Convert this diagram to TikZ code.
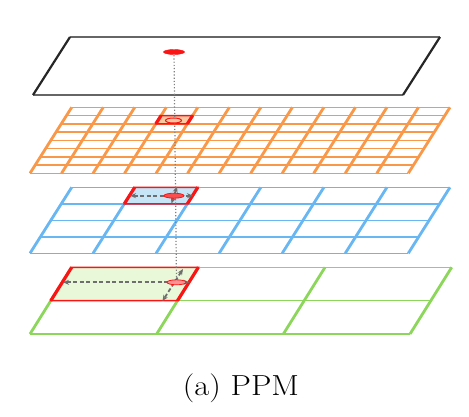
\documentclass[tikz,border=0pt]{standalone}
\usetikzlibrary{arrows.meta,shapes.geometric}
\definecolor{lorange}{RGB}{248,152,72}
\definecolor{lblue}{RGB}{104,182,242}
\definecolor{lgreen}{RGB}{140,214,92}
\definecolor{fblue}{RGB}{198,230,248}
\definecolor{fgreen}{RGB}{232,248,216}
\definecolor{forange}{RGB}{250,200,160}
\definecolor{pred}{RGB}{250,20,20}
\definecolor{arrgray}{RGB}{110,110,110}
\tikzset{
  hline/.style={line width=1.5pt},
  sline/.style={line width=2.8pt},
  redcell/.style={draw=pred, line width=1.5pt},
  redside/.style={draw=pred, line width=3.2pt},
  dblarrow/.style={arrgray, line width=1.8pt, dash pattern=on 4pt off 2.5pt, {Stealth[length=6pt,width=5pt]}-{Stealth[length=6pt,width=5pt]}},
  blob/.style={ellipse, draw=pred, inner sep=0pt},
}
\begin{document}
\begin{tikzpicture}[x=1pt,y=1pt]
\useasboundingbox (0,0) rectangle (469,416);
% ---- top (black) layer
\begin{scope}[shift={(33,321)}, xslant=0.638]
  \draw[line width=1.5pt, black!60] (0,0) -- (370,0) (0,58) -- (370,58);
  \draw[line width=2.2pt, black!85] (0,0) -- (0,58) (370,0) -- (370,58);
\end{scope}
% ---- orange layer 12 x 8
\begin{scope}[shift={(30,242.7)}, xslant=0.632, lorange]
  \foreach \j in {0,...,8} \draw[hline] (0,\j*8.25) -- (378.3,\j*8.25);
  \foreach \i in {0,...,12} \draw[sline] (\i*31.525,0) -- (\i*31.525,66);
  \fill[forange] (94.575,49.5) rectangle (126.1,57.75);
  \draw[redcell] (94.575,49.5) rectangle (126.1,57.75);
  \draw[redside] (94.575,49.5) -- (94.575,57.75) (126.1,49.5) -- (126.1,57.75);
\end{scope}
% ---- blue layer 6 x 4
\begin{scope}[shift={(30,162.7)}, xslant=0.632, lblue]
  \foreach \j in {0,...,4} \draw[hline] (0,\j*16.5) -- (378.3,\j*16.5);
  \foreach \i in {0,...,6} \draw[sline] (\i*63.05,0) -- (\i*63.05,66);
  \fill[fblue] (63.05,49.5) rectangle (126.1,66);
  \draw[redcell] (63.05,49.5) rectangle (126.1,66);
  \draw[redside] (63.05,49.5) -- (63.05,66) (126.1,49.5) -- (126.1,66);
\end{scope}
% ---- green layer 3 x 2
\begin{scope}[shift={(30,82)}, xslant=0.625, lgreen]
  \foreach \j in {0,...,2} \draw[hline] (0,\j*33.35) -- (380,\j*33.35);
  \foreach \i in {0,...,3} \draw[sline] (\i*126.67,0) -- (\i*126.67,66.7);
  \fill[fgreen] (0,33.35) rectangle (126.67,66.7);
  \draw[redcell] (0,33.35) rectangle (126.67,66.7);
  \draw[redside] (0,33.35) -- (0,66.7) (126.67,33.35) -- (126.67,66.7);
\end{scope}
% ---- named points
\coordinate (p0) at (174,364);
\coordinate (p3) at (176.5,133.7);
\coordinate (bl) at (130,220.3);
\coordinate (br) at (193,220.3);
\coordinate (bt) at (177,229.5);
\coordinate (bb) at (171.5,212.5);
\coordinate (gl) at (63,133.7);
\coordinate (gr) at (189.5,133.7);
\coordinate (gt) at (183,147);
\coordinate (gb) at (162.5,115);
% dotted projection line
\draw[gray, dotted, line width=1.2pt] (p0) -- (p3);
% arrows
\draw[dblarrow] (bl) -- (br);
\draw[dblarrow] (bt) -- (bb);
\draw[dblarrow] (gl) -- (gr);
\draw[dblarrow] (gt) -- (gb);
% red blobs
\node[blob, fill=pred, minimum width=21pt, minimum height=5pt] (e0) at (p0) {};
\node[blob, fill=forange, line width=1pt, minimum width=16pt, minimum height=5pt] (e1) at (173.5,295.5) {};
\node[blob, fill=pred!75, line width=0.8pt, minimum width=20pt, minimum height=5pt] (e2) at (174,220.3) {};
\node[blob, fill=pred!45, line width=0.8pt, minimum width=19pt, minimum height=5pt] (e3) at (p3) {};
% caption
\node[anchor=base, inner sep=0pt, font=\fontsize{29}{34}\selectfont, xscale=1.12, transform shape] (cap) at (241,21) {(a) PPM};
\end{tikzpicture}
\end{document}
